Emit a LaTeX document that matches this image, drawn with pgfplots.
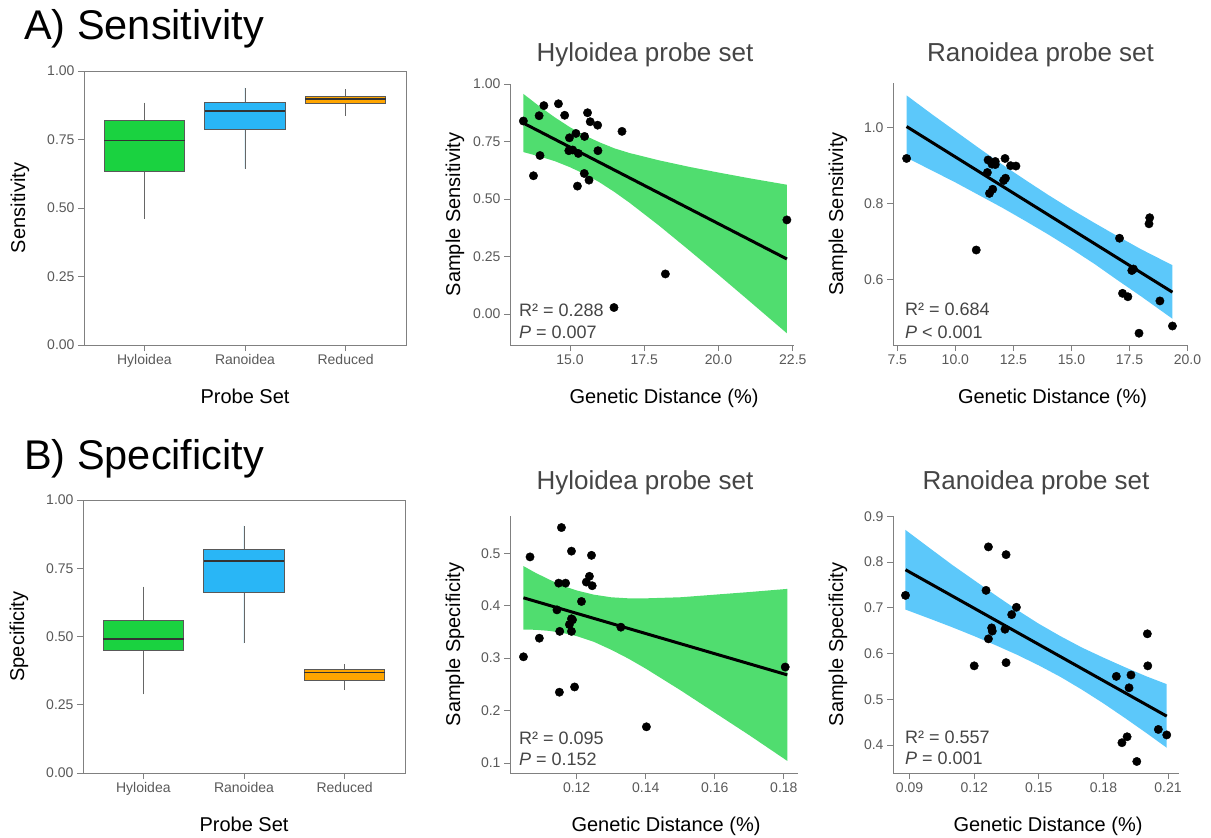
\documentclass[border=0pt]{standalone}
\usepackage{fontspec}
\setmainfont{Liberation Sans}
\usepackage{pgfplots}
\pgfplotsset{compat=1.18}
\usepgfplotslibrary{statistics}

\definecolor{boxgreen}{HTML}{1AD240}
\definecolor{boxblue}{HTML}{29B6F6}
\definecolor{boxorange}{HTML}{FFA500}
\definecolor{bandgreen}{HTML}{50DD6F}
\definecolor{bandblue}{HTML}{5CC8FA}
\definecolor{axgray}{HTML}{808080}
\definecolor{tickgray}{HTML}{595959}
\definecolor{titlegray}{HTML}{454545}

\pgfplotsset{
  base/.style={
    scale only axis, anchor=north west,
    tick align=outside, major tick length=6pt,
    tick style={draw=axgray, line width=0.8pt},
    tick label style={font=\fontsize{14}{16}\selectfont, text=tickgray},
    /pgf/number format/assume math mode=true,
    label style={font=\fontsize{20}{24}\selectfont},
    title style={font=\fontsize{26}{30}\selectfont, text=titlegray, anchor=base},
  },
  boxpanel/.style={
    base,
    axis line style={draw=axgray, line width=0.8pt},
    tick pos=left,
    xmin=0.4, xmax=3.6, ymin=0, ymax=1,
    xtick={1,2,3}, xticklabels={Hyloidea,Ranoidea,Reduced},
    ytick={0,0.25,0.5,0.75,1},
    yticklabel style={/pgf/number format/.cd, fixed, fixed zerofill, precision=2},
    boxplot/draw direction=y,
    boxplot/box extend=0.8,
    boxplot/whisker extend=0,
    boxplot/every whisker/.style={draw=black!60, line width=0.7pt},
    boxplot/every median/.style={draw=black!80, line width=1.5pt},
    boxplot/every box/.style={draw=black!65, line width=0.9pt},
    xlabel={Probe Set},
    xlabel style={at={([yshift=-58pt]axis description cs:0.5,0)}, anchor=base},
    ylabel style={at={([xshift=-64pt]axis description cs:0,0.5)}, anchor=center},
  },
  rpanel/.style={
    base,
    axis lines*=left,
    axis line style={draw=axgray, line width=0.8pt, -},
    xlabel={Genetic Distance (\%)},
    xlabel style={at={([xshift=12pt,yshift=-58pt]axis description cs:0.5,0)}, anchor=base},
    ylabel style={at={([xshift=-55pt]axis description cs:0,0.5)}, anchor=center},
  },
  pts/.style={only marks, mark=*, mark size=4.2pt, black},
  fit/.style={black, line width=3pt},
}

\begin{document}
\begin{tikzpicture}
\useasboundingbox (0,0) rectangle (1211pt,-838pt);

\node[anchor=base west, inner sep=0, font=\fontsize{41.5}{46}\selectfont] at (24pt,-39pt) {A) Sensitivity};
\node[anchor=base west, inner sep=0, font=\fontsize{41.5}{46}\selectfont] at (24pt,-469pt) {B) Specificity};

% A, box plot
\begin{axis}[boxpanel, at={(84pt,-71pt)}, width=322pt, height=274pt, ylabel={Sensitivity}]
\addplot[boxplot prepared={lower whisker=0.461, lower quartile=0.633, median=0.746, upper quartile=0.819, upper whisker=0.885, draw position=1}, fill=boxgreen] coordinates {};
\addplot[boxplot prepared={lower whisker=0.644, lower quartile=0.787, median=0.854, upper quartile=0.885, upper whisker=0.939, draw position=2}, fill=boxblue] coordinates {};
\addplot[boxplot prepared={lower whisker=0.837, lower quartile=0.880, median=0.897, upper quartile=0.908, upper whisker=0.933, draw position=3}, fill=boxorange] coordinates {};
\end{axis}

% A, Hyloidea
\begin{axis}[rpanel, at={(510pt,-84pt)}, width=284pt, height=261pt,
  xmin=12.98, xmax=22.54, ymin=-0.135, ymax=1.0,
  xtick={15,17.5,20,22.5}, ytick={0,0.25,0.5,0.75,1},
  xticklabel style={/pgf/number format/.cd, fixed, fixed zerofill, precision=1},
  yticklabel style={/pgf/number format/.cd, fixed, fixed zerofill, precision=2},
  ylabel={Sample Sensitivity}, title={Hyloidea probe set},
  title style={at={([xshift=-7pt,yshift=17pt]axis description cs:0.5,1)}}]
\addplot[fill=bandgreen, draw=none] coordinates {
  (13.43,0.957) (14,0.900) (14.5,0.854) (15,0.812) (15.5,0.776) (16,0.746)
  (16.5,0.720) (17,0.700) (18,0.668) (19,0.640) (20,0.615) (21,0.591) (22.3,0.562)
  (22.3,-0.084) (21,0.060) (20,0.170) (19,0.278) (18,0.384) (17,0.484)
  (16.5,0.530) (16,0.572) (15.5,0.608) (15,0.638) (14.5,0.664) (14,0.684) (13.43,0.704)
} -- cycle;
\addplot[fit] coordinates {(13.43,0.830) (22.3,0.239)};
\addplot[pts] coordinates {
  (13.43,0.839) (13.96,0.862) (14.12,0.906) (14.61,0.914) (14.82,0.864)
  (13.99,0.689) (13.77,0.601) (14.98,0.766) (14.96,0.710) (15.09,0.713)
  (15.20,0.785) (15.28,0.698) (15.49,0.772) (15.59,0.875) (15.68,0.836)
  (15.93,0.821) (15.94,0.710) (15.48,0.611) (15.64,0.582) (15.25,0.556)
  (16.75,0.794) (18.21,0.174) (16.48,0.028) (22.30,0.409)
};
\end{axis}

% A, Ranoidea
\begin{axis}[rpanel, at={(893pt,-83pt)}, width=295pt, height=262pt,
  xmin=7.315, xmax=20.02, ymin=0.428, ymax=1.1176,
  xtick={7.5,10,12.5,15,17.5,20}, ytick={0.6,0.8,1.0},
  xticklabel style={/pgf/number format/.cd, fixed, fixed zerofill, precision=1},
  yticklabel style={/pgf/number format/.cd, fixed, fixed zerofill, precision=1},
  ylabel={Sample Sensitivity}, title={Ranoidea probe set},
  title style={at={([yshift=16pt]axis description cs:0.5,1)}}]
\addplot[fill=bandblue, draw=none] coordinates {
  (7.9,1.085) (9,1.035) (10,0.991) (11,0.947) (12,0.904) (13,0.863) (14,0.823)
  (15,0.785) (16,0.749) (17,0.714) (18,0.680) (19.35,0.638)
  (19.35,0.497) (18,0.556) (17,0.598) (16,0.641) (15,0.681) (14,0.719)
  (13,0.755) (12,0.790) (11,0.823) (10,0.856) (9,0.887) (7.9,0.921)
} -- cycle;
\addplot[fit] coordinates {(7.9,1.003) (19.35,0.567)};
\addplot[pts] coordinates {
  (7.90,0.919) (10.90,0.678) (11.41,0.915) (11.38,0.882) (11.47,0.827)
  (11.61,0.838) (11.58,0.904) (11.72,0.911) (11.72,0.903) (12.14,0.919)
  (12.08,0.861) (12.16,0.867) (12.38,0.900) (12.61,0.899) (17.07,0.709)
  (17.20,0.564) (17.43,0.555) (17.60,0.624) (17.67,0.628) (18.37,0.763)
  (18.34,0.747) (18.81,0.544) (19.35,0.478) (17.91,0.459)
};
\end{axis}

% B, box plot
\begin{axis}[boxpanel, at={(83pt,-500pt)}, width=322pt, height=273pt, ylabel={Specificity}]
\addplot[boxplot prepared={lower whisker=0.288, lower quartile=0.449, median=0.490, upper quartile=0.558, upper whisker=0.683, draw position=1}, fill=boxgreen] coordinates {};
\addplot[boxplot prepared={lower whisker=0.475, lower quartile=0.662, median=0.777, upper quartile=0.820, upper whisker=0.906, draw position=2}, fill=boxblue] coordinates {};
\addplot[boxplot prepared={lower whisker=0.304, lower quartile=0.338, median=0.368, upper quartile=0.379, upper whisker=0.400, draw position=3}, fill=boxorange] coordinates {};
\end{axis}

% B, Hyloidea
\begin{axis}[rpanel, at={(510pt,-516pt)}, width=288pt, height=257pt,
  xmin=0.1007, xmax=0.1841, ymin=0.0809, ymax=0.571,
  xtick={0.12,0.14,0.16,0.18}, ytick={0.1,0.2,0.3,0.4,0.5},
  xticklabel style={/pgf/number format/.cd, fixed, fixed zerofill, precision=2},
  yticklabel style={/pgf/number format/.cd, fixed, fixed zerofill, precision=1},
  ylabel={Sample Specificity}, title={Hyloidea probe set},
  title style={at={([xshift=-9pt,yshift=21pt]axis description cs:0.5,1)}}]
\addplot[fill=bandgreen, draw=none] coordinates {
  (0.1046,0.4755) (0.108,0.463) (0.112,0.450) (0.116,0.438) (0.12,0.429)
  (0.125,0.421) (0.13,0.416) (0.135,0.414) (0.14,0.414) (0.15,0.416)
  (0.16,0.421) (0.17,0.426) (0.181,0.432)
  (0.181,0.104) (0.17,0.153) (0.16,0.196) (0.15,0.239) (0.14,0.280)
  (0.135,0.299) (0.13,0.316) (0.125,0.331) (0.12,0.342) (0.116,0.348)
  (0.112,0.352) (0.108,0.354) (0.1046,0.3545)
} -- cycle;
\addplot[fit] coordinates {(0.1046,0.415) (0.181,0.268)};
\addplot[pts] coordinates {
  (0.1046,0.3025) (0.1065,0.493) (0.1092,0.338) (0.1156,0.549) (0.1148,0.443)
  (0.1168,0.443) (0.1143,0.392) (0.1151,0.351) (0.1150,0.235) (0.1185,0.504)
  (0.1179,0.364) (0.1185,0.375) (0.1188,0.373) (0.1185,0.351) (0.1194,0.245)
  (0.1214,0.408) (0.1228,0.445) (0.1237,0.456) (0.1243,0.496) (0.1245,0.438)
  (0.1328,0.359) (0.1402,0.169) (0.1804,0.283)
};
\end{axis}

% B, Ranoidea
\begin{axis}[rpanel, at={(893pt,-516pt)}, width=286pt, height=257pt,
  xmin=0.0823, xmax=0.2151, ymin=0.3388, ymax=0.9005,
  xtick={0.09,0.12,0.15,0.18,0.21}, ytick={0.4,0.5,0.6,0.7,0.8,0.9},
  xticklabel style={/pgf/number format/.cd, fixed, fixed zerofill, precision=2},
  yticklabel style={/pgf/number format/.cd, fixed, fixed zerofill, precision=1},
  ylabel={Sample Specificity}, title={Ranoidea probe set},
  title style={at={([yshift=21pt]axis description cs:0.5,1)}}]
\addplot[fill=bandblue, draw=none] coordinates {
  (0.0881,0.870) (0.10,0.828) (0.11,0.793) (0.12,0.760) (0.13,0.727)
  (0.14,0.695) (0.15,0.665) (0.16,0.638) (0.17,0.613) (0.18,0.591)
  (0.19,0.570) (0.20,0.550) (0.2094,0.533)
  (0.2094,0.394) (0.20,0.426) (0.19,0.459) (0.18,0.491) (0.17,0.521)
  (0.16,0.549) (0.15,0.574) (0.14,0.597) (0.13,0.618) (0.12,0.638)
  (0.11,0.657) (0.10,0.675) (0.0881,0.696)
} -- cycle;
\addplot[fit] coordinates {(0.0881,0.783) (0.2094,0.463)};
\addplot[pts] coordinates {
  (0.0881,0.727) (0.1200,0.573) (0.1255,0.738) (0.1266,0.833) (0.1266,0.632)
  (0.1281,0.656) (0.1284,0.649) (0.1343,0.653) (0.1348,0.816) (0.1348,0.580)
  (0.1374,0.685) (0.1396,0.701) (0.1860,0.550) (0.1886,0.405) (0.1910,0.418)
  (0.1919,0.525) (0.1928,0.553) (0.1955,0.364) (0.2004,0.643) (0.2006,0.573)
  (0.2055,0.434) (0.2094,0.422)
};
\end{axis}

% fit statistics
\begin{scope}[every node/.style={anchor=base west, inner sep=0, font=\fontsize{18}{22}\selectfont, text=titlegray}]
\node at (519pt,-316pt) {R² = 0.288};
\node at (519pt,-338pt) {\textit{P} = 0.007};
\node at (905pt,-315pt) {R² = 0.684};
\node at (905pt,-338pt) {\textit{P} < 0.001};
\node at (519pt,-744pt) {R² = 0.095};
\node at (519pt,-765pt) {\textit{P} = 0.152};
\node at (905pt,-743pt) {R² = 0.557};
\node at (905pt,-764pt) {\textit{P} = 0.001};
\end{scope}
\end{tikzpicture}
\end{document}
